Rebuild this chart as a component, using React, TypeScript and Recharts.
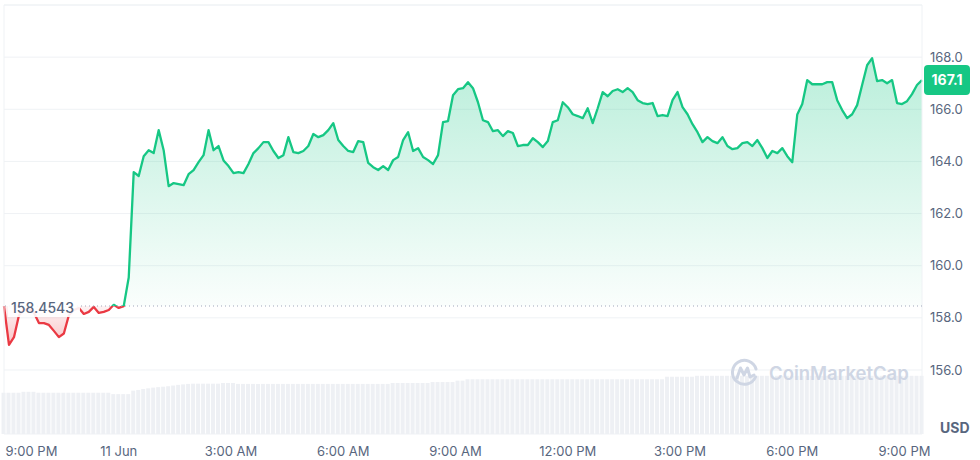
import { Area, Bar, CartesianGrid, ComposedChart, ReferenceLine, XAxis, YAxis } from "recharts";

const UP = "#16c784";
const DOWN = "#ea3943";
const TEXT = "#58667e";
const GRID = "#eff2f5";

const BASE_PRICE = 158.4543;
// first point is 8:56 PM on 10 Jun, one point every 8 minutes
const START_HOUR = -3 - 4 / 60;
const STEP_MINUTES = 8;

const PRICES = [
  158.45, 156.96, 157.26, 158.1, 158.3, 158.35, 158.2, 157.8, 157.8, 157.73,
  157.5, 157.26, 157.4, 158.1, 158.3, 158.38, 158.15, 158.23, 158.42, 158.19,
  158.23, 158.3, 158.5, 158.38, 158.45, 159.55, 163.59, 163.44, 164.2, 164.43,
  164.32, 165.2, 164.43, 163.05, 163.17, 163.13, 163.09, 163.51, 163.67, 163.97,
  164.24, 165.2, 164.43, 164.59, 164.04, 163.82, 163.55, 163.59, 163.55, 163.9,
  164.32, 164.51, 164.74, 164.74, 164.4, 164.13, 164.24, 164.93, 164.36, 164.32,
  164.4, 164.59, 165.05, 164.93, 165.01, 165.2, 165.47, 164.82, 164.59, 164.4,
  164.36, 164.78, 164.74, 163.94, 163.78, 163.67, 163.82, 163.67, 164.05, 164.17,
  164.82, 165.12, 164.4, 164.51, 164.17, 164.05, 163.9, 164.24, 165.51, 165.55,
  166.54, 166.77, 166.81, 167.04, 166.81, 166.27, 165.58, 165.51, 165.16, 165.2,
  164.97, 165.16, 165.09, 164.59, 164.63, 164.63, 164.89, 164.74, 164.55, 164.78,
  165.51, 165.58, 166.27, 166.08, 165.81, 165.74, 165.66, 166.04, 165.47, 166.04,
  166.66, 166.5, 166.7, 166.77, 166.66, 166.81, 166.66, 166.35, 166.24, 166.2,
  166.24, 165.74, 165.78, 165.74, 166.35, 166.66, 166.08, 165.81, 165.43, 165.12,
  164.74, 164.93, 164.78, 164.7, 164.93, 164.59, 164.47, 164.51, 164.7, 164.74,
  164.59, 164.82, 164.51, 164.13, 164.4, 164.32, 164.51, 164.2, 163.97, 165.8,
  166.2, 167.12, 166.96, 166.96, 166.96, 167.04, 167.04, 166.35, 165.97, 165.66,
  165.81, 166.16, 166.93, 167.69, 167.96, 167.08, 167.12, 167.0, 167.12, 166.24,
  166.2, 166.31, 166.58, 166.93, 167.12,
];

// 24h volume, millions USD
const VOLUMES = [
  178, 178, 178, 178, 182, 182, 182, 178, 178, 178,
  178, 178, 178, 178, 178, 178, 178, 178, 178, 178,
  178, 178, 172, 172, 172, 172, 187, 190, 194, 197,
  200, 202, 204, 206, 209, 212, 214, 216, 217, 217,
  217, 217, 217, 217, 220, 220, 220, 216, 216, 216,
  216, 216, 216, 216, 216, 216, 216, 216, 216, 216,
  216, 216, 216, 216, 216, 216, 216, 216, 216, 216,
  216, 216, 216, 216, 216, 216, 216, 216, 220, 220,
  220, 220, 220, 220, 220, 220, 224, 224, 224, 224,
  224, 230, 230, 236, 236, 236, 236, 236, 236, 236,
  236, 236, 236, 236, 236, 236, 236, 236, 236, 236,
  236, 236, 236, 236, 236, 236, 236, 236, 236, 236,
  236, 236, 236, 236, 236, 236, 236, 236, 236, 236,
  236, 236, 236, 247, 247, 247, 247, 247, 247, 251,
  251, 251, 251, 251, 251, 251, 251, 251, 251, 251,
  251, 251, 251, 251, 251, 251, 251, 251, 251, 251,
  251, 251, 251, 251, 251, 251, 251, 251, 251, 251,
  251, 251, 251, 251, 251, 251, 251, 251, 251, 251,
  251, 251, 251, 251, 251,
];

const TICK_HOURS = [-3, 0, 3, 6, 9, 12, 15, 18, 21];
const TICK_LABELS = ["9:00 PM", "11 Jun", "3:00 AM", "6:00 AM", "9:00 AM", "12:00 PM", "3:00 PM", "6:00 PM", "9:00 PM"];
const PRICE_TICKS = [156, 158, 160, 162, 164, 166, 168];

const chartData = PRICES.map((price, i) => ({
  t: START_HOUR + (i * STEP_MINUTES) / 60,
  price,
  volume: VOLUMES[i],
}));

const maxPrice = Math.max(...PRICES);
const minPrice = Math.min(...PRICES);
const splitOffset = (maxPrice - BASE_PRICE) / (maxPrice - minPrice);
const lastPrice = PRICES[PRICES.length - 1];

function TimeTick({ x, y, payload, index }: any) {
  const label = TICK_LABELS[TICK_HOURS.indexOf(payload.value)] ?? "";
  const first = index === 0;
  return (
    <text x={first ? x - 1 : x} y={y + 14} textAnchor={first ? "start" : "middle"} fontSize={13} fill={TEXT}>
      {label}
    </text>
  );
}

function BaseLabel({ viewBox }: any) {
  if (!viewBox) return null;
  const { x, y } = viewBox;
  return (
    <g>
      <rect x={x + 4} y={y - 9} width={72} height={20} fill="#fff" fillOpacity={0.9} />
      <text x={x + 7} y={y + 7} fontSize={14} fontWeight={500} fill={TEXT}>
        {BASE_PRICE}
      </text>
    </g>
  );
}

function PriceBadge({ viewBox }: any) {
  if (!viewBox) return null;
  const right = viewBox.x + viewBox.width;
  const y = viewBox.y;
  return (
    <g>
      <rect x={right + 2} y={y - 15} width={46} height={30} rx={4} fill={UP} />
      <text x={right + 25} y={y + 5} textAnchor="middle" fontSize={14} fontWeight={700} fill="#fff">
        {lastPrice.toFixed(1)}
      </text>
    </g>
  );
}

function Watermark() {
  return (
    <div
      style={{
        position: "absolute",
        left: 730,
        top: 358,
        display: "flex",
        alignItems: "center",
        gap: 10,
        color: "#cfd6e4",
        fontSize: 18.5,
        fontWeight: 600,
        pointerEvents: "none",
      }}
    >
      <svg width={29} height={29} viewBox="0 0 29 29">
        <path d="M25.5 19 A12 12 0 1 1 26 11" fill="none" stroke="#cfd6e4" strokeWidth={3} strokeLinecap="round" />
        <path d="M7 20 L10.5 10 L14 17 L17.5 10 L20 19 L24 17" fill="none" stroke="#cfd6e4" strokeWidth={3} strokeLinejoin="round" strokeLinecap="round" />
      </svg>
      <span>CoinMarketCap</span>
    </div>
  );
}

export default function App() {
  return (
    <div style={{ position: "absolute", left: 0, top: 0, width: 980, height: 460, fontFamily: "Inter, sans-serif" }}>
      <ComposedChart width={980} height={460} data={chartData} margin={{ top: 5, right: 0, bottom: 0, left: 4 }}>
        <defs>
          <linearGradient id="strokeGrad" x1="0" y1="0" x2="0" y2="1">
            <stop offset={splitOffset} stopColor={UP} />
            <stop offset={splitOffset} stopColor={DOWN} />
          </linearGradient>
          <linearGradient id="fillGrad" x1="0" y1="0" x2="0" y2="1">
            <stop offset={0} stopColor={UP} stopOpacity={0.3} />
            <stop offset={splitOffset} stopColor={UP} stopOpacity={0.02} />
            <stop offset={splitOffset} stopColor={DOWN} stopOpacity={0.06} />
            <stop offset={1} stopColor={DOWN} stopOpacity={0.3} />
          </linearGradient>
        </defs>
        <CartesianGrid yAxisId="price" vertical={false} stroke={GRID} />
        <XAxis
          dataKey="t"
          type="number"
          domain={["dataMin", "dataMax"]}
          ticks={TICK_HOURS}
          interval={0}
          tick={<TimeTick />}
          axisLine={false}
          tickLine={false}
          height={26}
        />
        <YAxis
          yAxisId="price"
          orientation="right"
          domain={[153.545, 170]}
          allowDataOverflow
          ticks={PRICE_TICKS}
          tickFormatter={(v: number) => v.toFixed(1)}
          tick={{ fill: TEXT, fontSize: 13 }}
          axisLine={false}
          tickLine={false}
          width={58}
        />
        <YAxis yAxisId="vol" hide domain={[0, 1850]} />
        <ReferenceLine yAxisId="price" y={170} stroke={GRID} />
        <ReferenceLine yAxisId="price" x={chartData[0].t} stroke={GRID} />
        <ReferenceLine yAxisId="price" x={chartData[chartData.length - 1].t} stroke={GRID} />
        <Bar yAxisId="vol" dataKey="volume" fill="#eef0f4" barSize={4} isAnimationActive={false} />
        <Area
          yAxisId="price"
          type="linear"
          dataKey="price"
          baseValue={BASE_PRICE}
          stroke="url(#strokeGrad)"
          strokeWidth={2.3}
          strokeLinejoin="round"
          fill="url(#fillGrad)"
          fillOpacity={1}
          dot={false}
          activeDot={false}
          isAnimationActive={false}
        />
        <ReferenceLine
          yAxisId="price"
          y={BASE_PRICE}
          stroke="#a1a7bb"
          strokeDasharray="1 3"
          label={<BaseLabel />}
        />
        <ReferenceLine yAxisId="price" y={lastPrice} stroke="none" label={<PriceBadge />} />
      </ComposedChart>
      <Watermark />
      <div style={{ position: "absolute", left: 940, top: 419, fontSize: 14, fontWeight: 700, color: TEXT }}>USD</div>
    </div>
  );
}
